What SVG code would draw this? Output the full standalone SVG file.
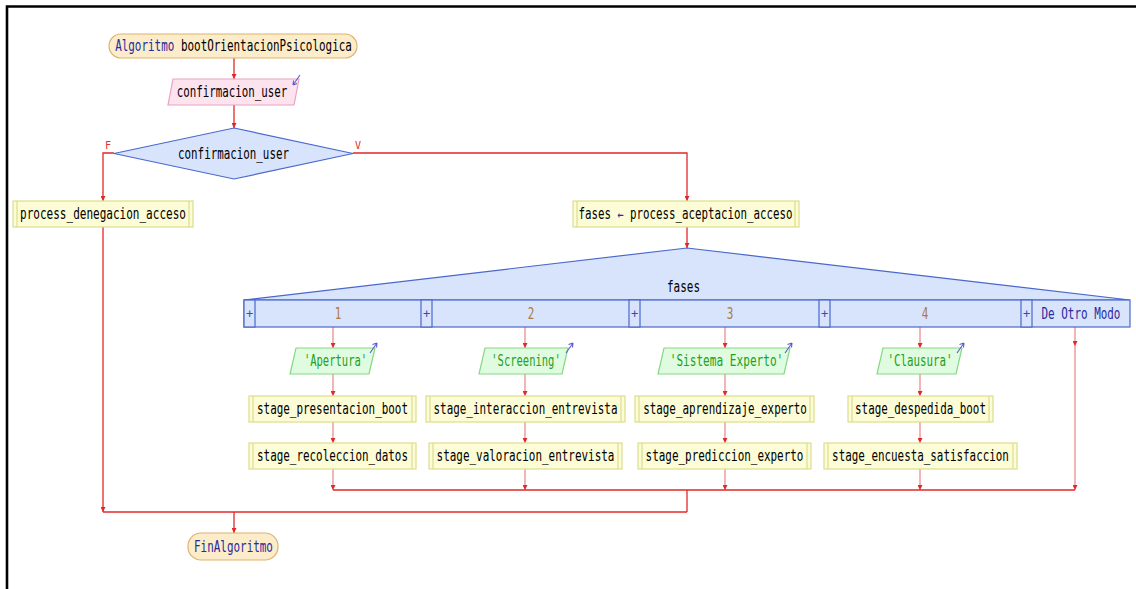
<svg xmlns="http://www.w3.org/2000/svg" width="1136" height="589" viewBox="0 0 1136 589">
<style>
text{font-family:"DejaVu Sans Mono","Liberation Mono",monospace;font-size:15px;text-anchor:middle}
.term{fill:#fcecc9;stroke:#dcb46e;stroke-width:1.2}
.inp{fill:#fde3ee;stroke:#e8a2c2;stroke-width:1.2}
.dec{fill:#d8e3fc;stroke:#4a68cc;stroke-width:1.2}
.proc{fill:#fcfcd6;stroke:#dcdc8e;stroke-width:1.2}
.out{fill:#e0fce0;stroke:#84d884;stroke-width:1.2}
.sw{fill:#d8e3fc;stroke:#4a68cc;stroke-width:1.2}
.kw{fill:#2a2aa0}
.num{fill:#a87c40}
.str{fill:#22a022}
.lbl{fill:#e03030;font-size:10px}
.plus{fill:#3a4ab0;font-size:12px}
.c{fill:none;stroke:#e02828;stroke-width:1.3}
.cl{fill:none;stroke:#f09494;stroke-width:1.4}
.icon{fill:none;stroke:#5a5ad0;stroke-width:1.1}
</style>
<defs>
<marker id="ah" viewBox="0 0 6 6" refX="6" refY="3" markerWidth="5" markerHeight="5" markerUnits="userSpaceOnUse" orient="auto">
<path d="M0,0 L6,3 L0,6 z" fill="#e02828"/>
</marker>
</defs>
<rect width="1136" height="589" fill="#fff"/>
<path d="M7,589 L7,6.5 L1136,6.5" fill="none" stroke="#000" stroke-width="2.6"/>

<g id="connectors">
<path class="c" d="M234,58 L234,79" marker-end="url(#ah)"/>
<path class="c" d="M234,105 L234,128" marker-end="url(#ah)"/>
<path class="c" d="M114,153 L103,153 L103,201" marker-end="url(#ah)"/>
<path class="c" d="M353,153 L687,153 L687,201" marker-end="url(#ah)"/>
<path class="c" d="M687,227 L687,248" marker-end="url(#ah)"/>
<path class="cl" d="M333,327 L333,348" marker-end="url(#ah)"/>
<path class="cl" d="M333,374 L333,396" marker-end="url(#ah)"/>
<path class="cl" d="M333,422 L333,443" marker-end="url(#ah)"/>
<path class="cl" d="M333,469 L333,490" marker-end="url(#ah)"/>
<path class="cl" d="M525,327 L525,348" marker-end="url(#ah)"/>
<path class="cl" d="M525,374 L525,396" marker-end="url(#ah)"/>
<path class="cl" d="M525,422 L525,443" marker-end="url(#ah)"/>
<path class="cl" d="M525,469 L525,490" marker-end="url(#ah)"/>
<path class="cl" d="M725,327 L725,348" marker-end="url(#ah)"/>
<path class="cl" d="M725,374 L725,396" marker-end="url(#ah)"/>
<path class="cl" d="M725,422 L725,443" marker-end="url(#ah)"/>
<path class="cl" d="M725,469 L725,490" marker-end="url(#ah)"/>
<path class="cl" d="M920,327 L920,348" marker-end="url(#ah)"/>
<path class="cl" d="M920,374 L920,396" marker-end="url(#ah)"/>
<path class="cl" d="M920,422 L920,443" marker-end="url(#ah)"/>
<path class="cl" d="M920,469 L920,490" marker-end="url(#ah)"/>
<path class="cl" d="M1075,327 L1075,346" marker-end="url(#ah)"/>
<path class="cl" d="M1075,346 L1075,490" marker-end="url(#ah)"/>
<path class="c" d="M333,490 L1075,490"/>
<path class="c" d="M687,490 L687,512"/>
<path class="c" d="M103,227 L103,512" marker-end="url(#ah)"/>
<path class="c" d="M103,512 L687,512"/>
<path class="c" d="M234,512 L234,533" marker-end="url(#ah)"/>
<text class="lbl" x="108" y="149">F</text>
<text class="lbl" x="358" y="149">V</text>
</g>

<g id="start">
<rect class="term" x="109" y="34" width="248" height="24" rx="12"/>
<text transform="translate(233.5,51) scale(0.729,1)"><tspan class="kw">Algoritmo</tspan> bootOrientacionPsicologica</text>
</g>

<g id="input">
<polygon class="inp" points="173,79 299,79 294,105 168,105"/>
<text transform="translate(232,97) scale(0.72,1)">confirmacion_user</text>
<path class="icon" d="M300,75 L293,85 M293,85 L293.5,80.5 M293,85 L297,83.5"/>
</g>

<g id="decision">
<polygon class="dec" points="234,128 353,153.5 234,179 114,153.5"/>
<text transform="translate(233.5,158.5) scale(0.723,1)">confirmacion_user</text>
</g>

<g id="denegacion">
<rect class="proc" x="13" y="201" width="180" height="26"/>
<path class="proc" d="M17,201 L17,227 M189,201 L189,227"/>
<text transform="translate(103,219) scale(0.735,1)">process_denegacion_acceso</text>
</g>

<g id="aceptacion">
<rect class="proc" x="573" y="201" width="226" height="26"/>
<path class="proc" d="M577,201 L577,227 M795,201 L795,227"/>
<text transform="translate(685.5,219) scale(0.72,1)">fases <tspan class="kw" style="font-size:14px">←</tspan> process_aceptacion_acceso</text>
</g>

<g id="switch">
<polygon class="sw" points="244,300 687,248 1130,300"/>
<rect class="sw" x="244" y="300" width="886" height="27"/>
<rect class="sw" x="244" y="300" width="11" height="27"/>
<rect class="sw" x="421" y="300" width="11" height="27"/>
<rect class="sw" x="629" y="300" width="11" height="27"/>
<rect class="sw" x="819" y="300" width="11" height="27"/>
<rect class="sw" x="1021" y="300" width="11" height="27"/>
<text transform="translate(683.5,292) scale(0.73,1)">fases</text>
<text class="plus" x="249.5" y="318">+</text>
<text class="plus" x="426.5" y="318">+</text>
<text class="plus" x="634.5" y="318">+</text>
<text class="plus" x="824.5" y="318">+</text>
<text class="plus" x="1026.5" y="318">+</text>
<text class="num" transform="translate(338,319) scale(0.73,1)">1</text>
<text class="num" transform="translate(531,319) scale(0.73,1)">2</text>
<text class="num" transform="translate(730,319) scale(0.73,1)">3</text>
<text class="num" transform="translate(925,319) scale(0.73,1)">4</text>
<text class="kw" transform="translate(1081,319) scale(0.729,1)">De Otro Modo</text>
</g>

<g id="out1">
<polygon class="out" points="296,348 375,348 369,374 290,374"/>
<text class="str" transform="translate(335.5,366) scale(0.7,1)">'Apertura'</text>
<path class="icon" d="M370,353 L377,343 M377,343 L372.5,344.5 M377,343 L376.5,347.5"/>
</g>
<g id="out2">
<polygon class="out" points="485,348 568,348 562,374 479,374"/>
<text class="str" transform="translate(526,366) scale(0.7,1)">'Screening'</text>
<path class="icon" d="M566,353 L573,343 M573,343 L568.5,344.5 M573,343 L572.5,347.5"/>
</g>
<g id="out3">
<polygon class="out" points="664,348 790,348 784,374 658,374"/>
<text class="str" transform="translate(726.5,366) scale(0.74,1)">'Sistema Experto'</text>
<path class="icon" d="M785,353 L792,343 M792,343 L787.5,344.5 M792,343 L791.5,347.5"/>
</g>
<g id="out4">
<polygon class="out" points="883,348 962,348 956,374 877,374"/>
<text class="str" transform="translate(920,366) scale(0.72,1)">'Clausura'</text>
<path class="icon" d="M957,353 L964,343 M964,343 L959.5,344.5 M964,343 L963.5,347.5"/>
</g>

<g id="p11">
<rect class="proc" x="249" y="396" width="167" height="26"/>
<path class="proc" d="M253,396 L253,422 M412,396 L412,422"/>
<text transform="translate(332.5,414) scale(0.727,1)">stage_presentacion_boot</text>
</g>
<g id="p21">
<rect class="proc" x="426" y="396" width="199" height="26"/>
<path class="proc" d="M430,396 L430,422 M621,396 L621,422"/>
<text transform="translate(525.5,414) scale(0.728,1)">stage_interaccion_entrevista</text>
</g>
<g id="p31">
<rect class="proc" x="635" y="396" width="179" height="26"/>
<path class="proc" d="M639,396 L639,422 M810,396 L810,422"/>
<text transform="translate(725,414) scale(0.726,1)">stage_aprendizaje_experto</text>
</g>
<g id="p41">
<rect class="proc" x="848" y="396" width="145" height="26"/>
<path class="proc" d="M852,396 L852,422 M989,396 L989,422"/>
<text transform="translate(920.5,414) scale(0.725,1)">stage_despedida_boot</text>
</g>
<g id="p12">
<rect class="proc" x="249" y="443" width="167" height="26"/>
<path class="proc" d="M253,443 L253,469 M412,443 L412,469"/>
<text transform="translate(332.5,461) scale(0.727,1)">stage_recoleccion_datos</text>
</g>
<g id="p22">
<rect class="proc" x="429" y="443" width="193" height="26"/>
<path class="proc" d="M433,443 L433,469 M618,443 L618,469"/>
<text transform="translate(525.5,461) scale(0.73,1)">stage_valoracion_entrevista</text>
</g>
<g id="p32">
<rect class="proc" x="638" y="443" width="173" height="26"/>
<path class="proc" d="M642,443 L642,469 M807,443 L807,469"/>
<text transform="translate(724.5,461) scale(0.729,1)">stage_prediccion_experto</text>
</g>
<g id="p42">
<rect class="proc" x="824" y="443" width="193" height="26"/>
<path class="proc" d="M828,443 L828,469 M1013,443 L1013,469"/>
<text transform="translate(920.5,461) scale(0.726,1)">stage_encuesta_satisfaccion</text>
</g>

<g id="end">
<rect class="term" x="188" y="533" width="90" height="27" rx="13"/>
<text class="kw" transform="translate(233.5,551.5) scale(0.729,1)">FinAlgoritmo</text>
</g>
</svg>
